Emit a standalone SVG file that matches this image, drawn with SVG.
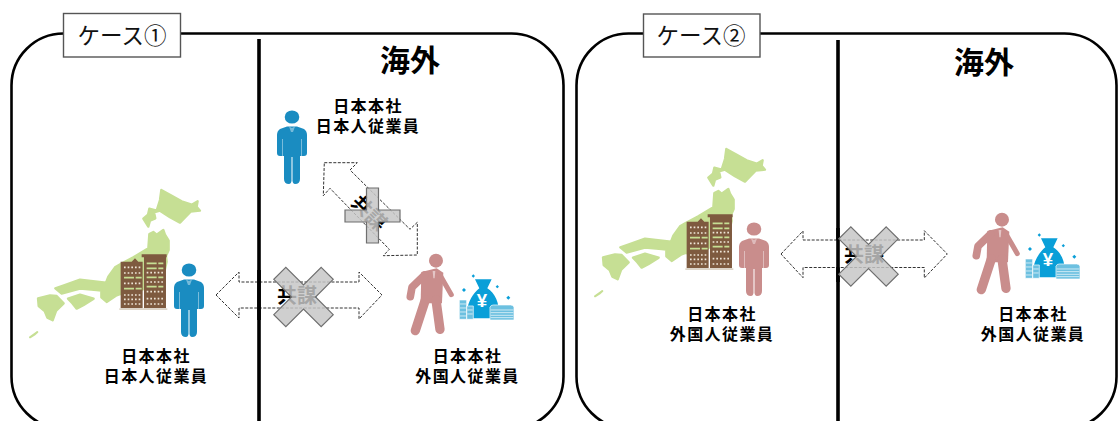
<svg xmlns="http://www.w3.org/2000/svg" width="1119" height="421" viewBox="0 0 1119 421">
<style>
.panel{fill:none;stroke:#000;stroke-width:2.6}
.div{stroke:#000;stroke-width:3.6;fill:none}
.tag{fill:#fff;stroke:#555;stroke-width:1.4}
.tagt{font:400 22.5px "Liberation Sans","Noto Sans CJK JP",sans-serif;fill:#111;text-anchor:middle}
.head{font:700 30px "Liberation Sans","Noto Sans CJK JP",sans-serif;fill:#000;text-anchor:middle}
.lab{font:700 16px "Liberation Sans","Noto Sans CJK JP",sans-serif;fill:#000;text-anchor:middle;letter-spacing:1.4px}
.kyo{font:700 20px "Liberation Sans","Noto Sans CJK JP",sans-serif;fill:#000;text-anchor:middle}
.arrow{fill:#fff;stroke:#333;stroke-width:1;stroke-dasharray:3 1.5}
.cross{fill:#c6c6c6;fill-opacity:.84;stroke:#6f6f6f;stroke-width:1.2}
.blue{fill:#1a8cc1}
.pink{fill:#c98d8c}
.w{stroke:#efe6d8;stroke-width:5;stroke-dasharray:5 6;fill:none}
.g{stroke:#c6df94;stroke-width:5;stroke-dasharray:30 5;fill:none}
</style>
<defs>
<path id="plus" d="M-8.500-33.500H8.500V-8.500H33.500V8.500H8.500V33.500H-8.500V8.500H-33.500V-8.500H-8.500Z"/>
<g id="japan" transform="translate(0,170) scale(.3333)" fill="#c6df94" stroke="#c6df94" stroke-width="7" stroke-linejoin="round">
<path d="M484 60L510 74L545 94L575 104L593 94L590 110L600 122L572 125L540 158L510 142L480 122L462 127L466 145L450 152L445 170L430 146L444 134L448 116L470 122L480 90Z"/>
<path d="M448 192L460 186L470 194L490 180L495 194L506 212L506 240L498 258L500 275L490 320L400 376L362 372L350 376L320 396L304 382L304 362L290 360L240 356L185 371L166 355L194 345L240 329L318 338L325 320L345 292L362 282L400 262L445 235Z"/>
<path d="M114 385L150 376L170 378L191 400L168 423L158 451L142 443L134 423L116 408Z"/>
<path d="M204 386L240 374L281 386L250 406L230 416L217 400Z"/>
<path d="M90 502L112 486L103 494Z" stroke-width="6"/>
</g>
<g id="building" transform="translate(0,170) scale(.3333)">
<path fill="#7e5a3f" d="M362 275H395L405 265L415 275H428V415H362ZM432 262H425V253H500V262H498V415H432Z"/>
<path fill="#ddd5c8" d="M358 415H502V420H358Z"/>
<path class="w" d="M372 292H425M372 309H425M372 340H425M372 375H425M372 388H425M372 402H425"/>
<path class="g" d="M372 323H425M372 356H425"/>
<path class="g" d="M440 280H490M440 295H490M440 322H490M440 350H490"/>
<path class="w" d="M440 308H490M440 336H490M440 365H490M440 386H490M440 402H490"/>
</g>
<g id="person">
<ellipse cx="0" cy="0" rx="7.300" ry="6.600"/>
<path d="M-5 9.500H5L12 12Q15 14 15 18V36Q15 39 12 39H8V62Q8 67 3 67Q1 67 .5 64V40H-.5V64Q-1 67-3 67Q-8 67-8 62V39H-12Q-15 39-15 36V18Q-15 14-12 12Z"/>
<path d="M-9.500 22V39M9.500 22V39" stroke="#fff" stroke-width=".7" fill="none" opacity=".6"/>
<path d="M-3 9.500L0 11L3 9.500L1 15H-1Z" fill="#fff" opacity=".4"/>
</g>
<g id="walker" class="pink" transform="translate(260,90) scale(.3333)">
<circle cx="528" cy="512" r="21"/>
<path d="M484 546L530 535L550 548L546 640L482 640Z"/>
<path fill="none" stroke="#c98d8c" stroke-linecap="round" stroke-linejoin="round" stroke-width="23" d="M494 555L456 592L451 620"/>
<path fill="none" stroke="#c98d8c" stroke-linecap="round" stroke-width="15" d="M540 555L574 614"/>
<path fill="none" stroke="#c98d8c" stroke-linecap="round" stroke-width="28" d="M496 630L466 722"/>
<path fill="none" stroke="#c98d8c" stroke-linecap="round" stroke-width="28" d="M528 630L540 718"/>
<path d="M518 543L526 543L524 565L520 565Z" fill="#fff" opacity=".5"/>
</g>
<g id="money" transform="translate(260,90) scale(.3333)">
<path fill="#0a9fd8" d="M645 568L695 568L682 595C705 610 720 640 715 672Q712 685 695 685H640Q620 685 622 660C624 635 640 610 658 595Z"/>
<text x="666" y="652" font-family="Liberation Sans,sans-serif" font-weight="700" font-size="56" fill="#fff" text-anchor="middle">¥</text>
<path fill="#6cc0e0" stroke="#fff" stroke-width="2" d="M598 630H620V688H598ZM620 648H640V688H620Z"/>
<path fill="#6cc0e0" stroke="#fff" stroke-width="2" d="M690 652Q692 645 700 645H752Q760 645 762 652V690H690Z"/>
<path stroke="#fff" stroke-width="2" fill="none" d="M692 660H760M692 668H760M692 676H760M692 683H760M600 642H618M600 654H618M600 666H618M600 678H618M622 660H638M622 672H638"/>
<path fill="#0a9fd8" d="M640 553L645 558L640 563L635 558ZM612 594L618 600L612 606L606 600ZM712 585L717 590L712 595L707 590ZM745 617L751 623L745 629L739 623Z"/>
</g>
</defs>

<rect width="1119" height="421" fill="#fff"/>

<g id="panel-1">
<rect class="panel" x="11.500" y="33.500" width="552" height="395" rx="52"/>
<path class="div" d="M259 39V421"/>
<rect class="tag" x="63.500" y="13.500" width="117" height="43.500"/>
<text class="tagt" x="122" y="44">ケース①</text>
<text class="head" x="410" y="71">海外</text>
</g>
<g id="panel-2">
<rect class="panel" x="576.500" y="33.500" width="540" height="395" rx="52"/>
<path class="div" d="M838 40V421"/>
<rect class="tag" x="643.500" y="14" width="116.500" height="43"/>
<text class="tagt" x="701" y="44">ケース②</text>
<text class="head" x="984" y="73">海外</text>
</g>

<g id="connectors">
<path class="arrow" d="M216 295L239 272V282H359V272L382 295L359 319V308H239V318Z" fill-opacity="0"/>
<path class="arrow" d="M324.300 162.700H357.300L350 170L410 229.300L417.300 222.300V255L383.300 255.700L389.300 249.300L330 188.300L323.300 195.700Z"/>
<path class="arrow" d="M781 254L803 231V240H924.300V230.700L947.300 254L924.300 278V267.500H803V277.700Z"/>
<path class="div" d="M259 270V320M838 228V282"/>
</g>

<g id="node-jp-hq-1">
<use href="#japan"/><use href="#building"/>
<use href="#person" class="blue" transform="translate(189,270)"/>
<text class="lab"><tspan x="156" y="362">日本本社</tspan><tspan x="156" y="382">日本人従業員</tspan></text>
</g>
<g id="node-jp-overseas-1">
<use href="#person" class="blue" transform="translate(292,117)"/>
<text class="lab"><tspan x="368" y="112">日本本社</tspan><tspan x="368" y="132">日本人従業員</tspan></text>
</g>
<g id="node-foreign-overseas-1">
<use href="#walker"/><use href="#money"/>
<text class="lab"><tspan x="467.500" y="362">日本本社</tspan><tspan x="467.500" y="382">外国人従業員</tspan></text>
</g>
<g id="node-foreign-hq-2">
<use href="#japan" transform="translate(565,-41)"/><use href="#building" transform="translate(566,-40)"/>
<use href="#person" class="pink" transform="translate(754,229)"/>
<text class="lab"><tspan x="722" y="320">日本本社</tspan><tspan x="722" y="340">外国人従業員</tspan></text>
</g>
<g id="node-foreign-overseas-2">
<use href="#walker" transform="translate(566,-41)"/><use href="#money" transform="translate(566,-41)"/>
<text class="lab"><tspan x="1033" y="320">日本本社</tspan><tspan x="1033" y="340">外国人従業員</tspan></text>
</g>

<g id="blocked-1">
<text class="kyo" x="297" y="303">共謀</text>
<use href="#plus" class="cross" transform="translate(303.500,297) rotate(45)"/>
</g>
<g id="blocked-diagonal">
<text class="kyo" transform="translate(369,213) rotate(45)" y="7">共謀</text>
<path class="cross" d="M366.500 188H378.500V210H400V222H378.500V243H366.500V222H345V210H366.500Z"/>
</g>
<g id="blocked-2">
<text class="kyo" x="864" y="262">共謀</text>
<use href="#plus" class="cross" transform="translate(868.500,256.500) rotate(45)"/>
</g>
</svg>
